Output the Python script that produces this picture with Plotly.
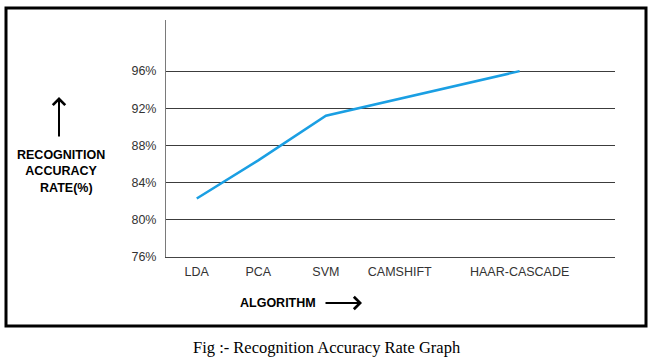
import plotly.graph_objects as go

# ---- data ----
algorithms = ["LDA", "PCA", "SVM", "CAMSHIFT", "HAAR-CASCADE"]
algo_pos = [0, 1, 2.1, 3.3, 5.25]          # horizontal placement of each algorithm
accuracy = [82.3, 86.4, 91.2, 93.0, 96.0]  # recognition accuracy rate (%)
y_ticks = [76, 80, 84, 88, 92, 96]
y_tick_labels = [f"{v}%" for v in y_ticks]

# ---- layout geometry (pixels) ----
W, H = 653, 360
L, R, T, B = 166, 615, 20, 257


def xp(px):
    return (px - L) / (R - L)


def yp(py):
    return (B - py) / (B - T)


fig = go.Figure()
fig.add_trace(go.Scatter(
    x=algo_pos, y=accuracy, mode="lines",
    line=dict(color="#1a9fe3", width=2.5),
    hoverinfo="skip", showlegend=False,
))

sans = "Liberation Sans, Arial, sans-serif"
FS = 12.5

fig.update_layout(
    width=W, height=H,
    margin=dict(l=L, r=W - R, t=T, b=H - B, pad=0),
    paper_bgcolor="white", plot_bgcolor="white",
    showlegend=False,
    font=dict(family=sans, size=FS, color="#333333"),
    xaxis=dict(
        range=[-0.5, 6.8], tickmode="array", tickvals=algo_pos, ticktext=algorithms,
        showgrid=False, zeroline=False, showline=True, linecolor="#444444", linewidth=1,
        ticks="", ticklabelstandoff=3, tickfont=dict(size=FS, color="#333333"),
    ),
    yaxis=dict(
        range=[76, 101.5], tickmode="array", tickvals=y_ticks, ticktext=y_tick_labels,
        showgrid=True, gridcolor="#3c3c3c", gridwidth=1, zeroline=False,
        showline=True, linecolor="#7a7a7a", linewidth=1,
        ticks="", ticklabelstandoff=6, tickfont=dict(size=FS, color="#333333"),
    ),
)

# outer frame
fig.add_shape(type="rect", xref="paper", yref="paper",
              x0=xp(6), x1=xp(646), y0=yp(326), y1=yp(8),
              line=dict(color="black", width=3), layer="above")

# y title
fig.add_annotation(xref="paper", yref="paper", x=xp(61), y=yp(172),
                   text="<b>RECOGNITION<br>ACCURACY<br>&nbsp;&nbsp;&nbsp;RATE(%)</b>",
                   showarrow=False, align="center", xanchor="center", yanchor="middle",
                   font=dict(family=sans, size=FS, color="black"))
# up arrow
fig.add_annotation(xref="paper", yref="paper", x=xp(59), y=yp(97), text="",
                   showarrow=True, ax=0, ay=41, arrowhead=4, arrowsize=1.2,
                   arrowwidth=2, arrowcolor="black", standoff=0)

# x title
fig.add_annotation(xref="paper", yref="paper", x=xp(278), y=yp(303),
                   text="<b>ALGORITHM</b>", showarrow=False,
                   xanchor="center", yanchor="middle",
                   font=dict(family=sans, size=FS, color="black"))
# right arrow
fig.add_annotation(xref="paper", yref="paper", x=xp(362), y=yp(303), text="",
                   showarrow=True, ax=-38, ay=0, arrowhead=4, arrowsize=1.2,
                   arrowwidth=2, arrowcolor="black", standoff=0)

# caption
fig.add_annotation(xref="paper", yref="paper", x=xp(327), y=yp(347),
                   text="Fig :- Recognition Accuracy Rate Graph", showarrow=False,
                   xanchor="center", yanchor="middle",
                   font=dict(family="Liberation Serif, Times New Roman, serif", size=16.5, color="black"))

fig.write_html(
    "out.html",
    config={"displayModeBar": False},
    post_script="document.body.style.margin='0px';document.body.style.overflow='hidden';",
)
